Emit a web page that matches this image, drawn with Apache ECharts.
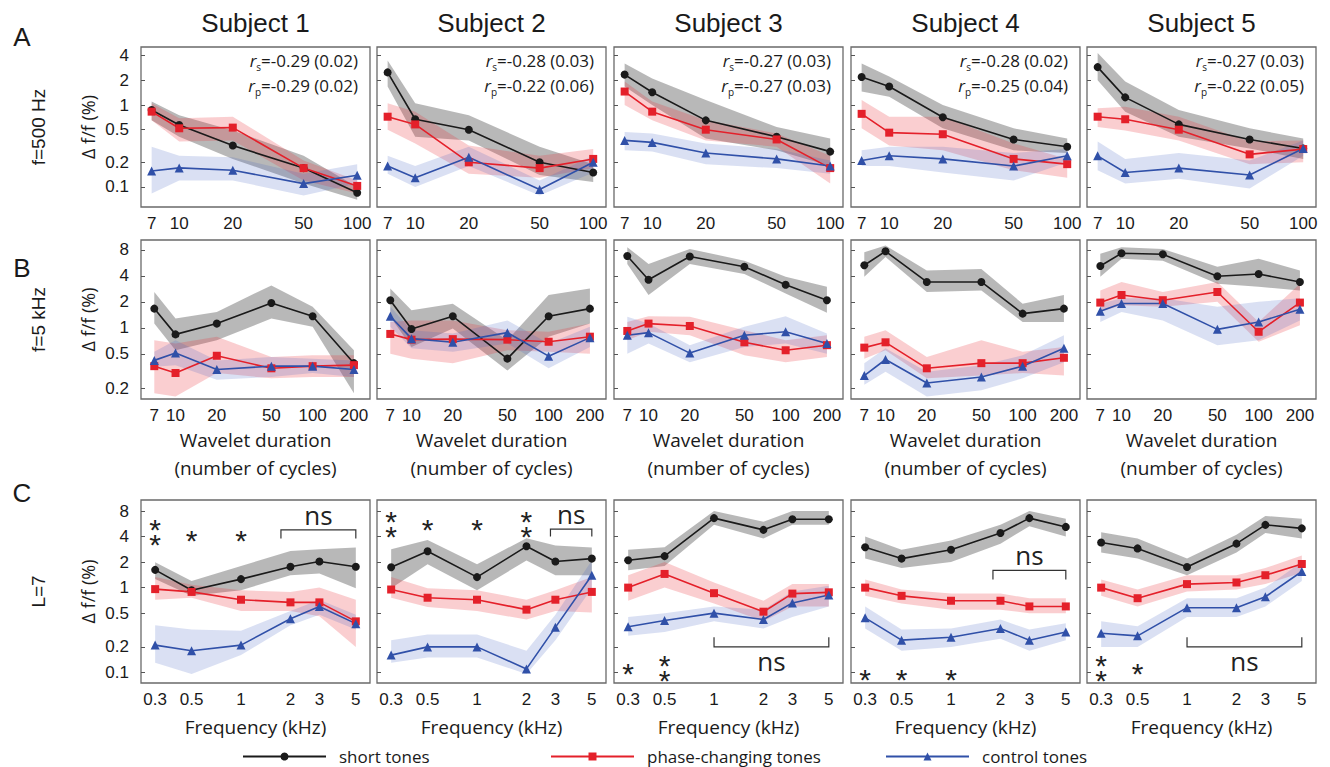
<!DOCTYPE html>
<html><head><meta charset="utf-8">
<script src="https://cdn.jsdelivr.net/npm/echarts@6/dist/echarts.min.js"></script>
<style>html,body{margin:0;padding:0;background:#fff;}#chart{width:1330px;height:767px;}</style>
</head><body><div id="chart"></div>
<script>
// ---------------- data ----------------
const SUBJECTS = ['Subject 1','Subject 2','Subject 3','Subject 4','Subject 5'];
const ROW_LABELS = ['f=500 Hz','f=5 kHz','L=7'];
const PANEL_LETTERS = ['A','B','C'];
const Y_TITLE = 'Δ f/f (%)';
const X_TITLE_B = ['Wavelet duration','(number of cycles)'];
const X_TITLE_C = 'Frequency (kHz)';
const SERIES_NAMES = ['short tones','phase-changing tones','control tones'];

const X_A = [7,10,20,50,100];
const X_B = [7,10,20,50,100,200];
const X_C = [0.3,0.5,1,2,3,5];
const YTICKS_A = [0.1,0.2,0.5,1,2,4];
const YTICKS_B = [0.2,0.5,1,2,4,8];
const YTICKS_C = [0.1,0.2,0.5,1,2,4,8];

const RS = ['-0.29 (0.02)','-0.28 (0.03)','-0.27 (0.03)','-0.28 (0.02)','-0.27 (0.03)'];
const RP = ['-0.29 (0.02)','-0.22 (0.06)','-0.27 (0.03)','-0.25 (0.04)','-0.22 (0.05)'];

// Row A (f = 500 Hz)
const A_SHORT    = [[0.87,0.57,0.32,0.17,0.085],[2.5,0.67,0.50,0.20,0.15],[2.35,1.43,0.65,0.41,0.27],[2.2,1.68,0.71,0.38,0.31],[2.9,1.24,0.58,0.38,0.295]];
const A_SHORT_LO = [[0.65,0.41,0.22,0.11,0.07],[1.68,0.41,0.37,0.14,0.115],[1.68,1.0,0.39,0.28,0.18],[1.46,1.26,0.52,0.28,0.26],[2.0,0.83,0.41,0.295,0.22]];
const A_SHORT_HI = [[1.1,0.75,0.49,0.24,0.1],[3.5,1.05,0.75,0.31,0.19],[3.2,2.1,1.15,0.54,0.39],[3.2,2.22,1.0,0.52,0.39],[4.3,1.93,0.87,0.52,0.39]];
const A_PHASE    = [[0.83,0.52,0.53,0.17,0.103],[0.72,0.58,0.20,0.17,0.22],[1.46,0.83,0.50,0.38,0.17],[0.78,0.46,0.44,0.22,0.19],[0.72,0.67,0.50,0.25,0.29]];
const A_PHASE_LO = [[0.65,0.36,0.37,0.12,0.083],[0.5,0.34,0.145,0.13,0.17],[1.0,0.65,0.37,0.31,0.11],[0.52,0.32,0.28,0.16,0.13],[0.54,0.49,0.37,0.19,0.2]];
const A_PHASE_HI = [[1.05,0.69,0.72,0.21,0.12],[1.05,0.83,0.32,0.24,0.29],[1.93,1.1,0.65,0.45,0.24],[1.15,0.72,0.72,0.34,0.22],[0.91,0.95,0.72,0.36,0.37]];
const A_CTRL     = [[0.157,0.171,0.16,0.11,0.139],[0.18,0.13,0.23,0.093,0.20],[0.37,0.35,0.26,0.22,0.18],[0.21,0.24,0.22,0.18,0.24],[0.24,0.15,0.17,0.14,0.295]];
const A_CTRL_LO  = [[0.083,0.12,0.12,0.079,0.11],[0.145,0.1,0.18,0.079,0.15],[0.28,0.27,0.19,0.17,0.145],[0.18,0.18,0.15,0.12,0.2],[0.16,0.11,0.126,0.096,0.24]];
const A_CTRL_HI  = [[0.31,0.24,0.23,0.145,0.19],[0.24,0.18,0.31,0.12,0.24],[0.47,0.45,0.34,0.29,0.21],[0.28,0.31,0.31,0.26,0.29],[0.36,0.22,0.26,0.21,0.37]];

// Row B (f = 5 kHz)
const B_SHORT    = [[1.67,0.84,1.12,1.94,1.36,0.39],[2.09,0.97,1.36,0.44,1.36,1.67],[6.8,3.6,6.7,5.1,3.16,2.09],[5.3,7.7,3.4,3.4,1.46,1.67],[5.2,7.3,7.1,3.95,4.2,3.4]];
const B_SHORT_LO = [[1.12,0.55,0.72,1.28,1.03,0.175],[1.34,0.6,0.98,0.32,0.79,1.12],[5.5,2.4,5.5,4.2,2.5,1.5],[3.9,6.6,2.6,2.7,1.17,1.17],[3.9,6.3,6.0,3.25,3.0,2.7]];
const B_SHORT_HI = [[2.6,1.28,1.53,3.1,1.75,0.55],[2.85,1.6,1.9,0.72,2.4,2.85],[8.6,5.5,8.2,6.0,3.9,3.0],[7.5,9.0,4.6,4.8,1.9,2.4],[7.2,8.6,8.2,5.1,6.3,4.6]];
const B_PHASE    = [[0.36,0.30,0.475,0.34,0.36,0.37],[0.85,0.73,0.74,0.73,0.69,0.79],[0.92,1.12,1.05,0.68,0.55,0.63],[0.59,0.68,0.34,0.39,0.39,0.45],[1.96,2.4,2.09,2.6,0.9,1.96]];
const B_PHASE_LO = [[0.175,0.16,0.3,0.26,0.27,0.27],[0.5,0.44,0.39,0.55,0.53,0.5],[0.72,0.9,0.82,0.48,0.4,0.46],[0.44,0.55,0.26,0.28,0.3,0.28],[1.53,1.83,1.75,2.0,0.69,1.07]];
const B_PHASE_HI = [[0.72,0.66,0.79,0.46,0.48,0.48],[1.17,1.22,1.22,0.94,0.9,1.12],[1.17,1.36,1.34,0.94,0.72,0.82],[0.79,0.94,0.46,0.72,0.53,0.6],[2.7,3.4,2.6,3.4,1.17,3.25]];
const B_CTRL     = [[0.42,0.51,0.33,0.36,0.36,0.33],[1.36,0.75,0.68,0.88,0.47,0.77],[0.82,0.88,0.51,0.82,0.9,0.66],[0.28,0.43,0.23,0.27,0.36,0.58],[1.56,1.91,1.91,0.96,1.17,1.64]];
const B_CTRL_LO  = [[0.355,0.37,0.25,0.27,0.3,0.27],[1.03,0.58,0.53,0.66,0.34,0.6],[0.5,0.66,0.4,0.6,0.66,0.5],[0.22,0.31,0.16,0.19,0.26,0.4],[1.17,1.53,1.22,0.63,0.72,1.22]];
const B_CTRL_HI  = [[0.53,0.72,0.42,0.46,0.44,0.42],[1.75,0.94,0.86,1.22,0.66,1.03],[1.34,1.12,0.63,1.03,1.36,0.86],[0.39,0.58,0.31,0.37,0.48,0.82],[1.9,2.2,2.2,1.75,2.0,2.2]];

// Row C (L = 7)
const C_SHORT    = [[1.62,0.93,1.26,1.76,2.03,1.76],[1.74,2.69,1.33,3.07,2.03,2.2],[2.1,2.35,6.6,4.8,6.4,6.4],[3.0,2.2,2.8,4.4,6.6,5.2],[3.4,2.9,1.75,3.3,5.5,5.0]];
const C_SHORT_LO = [[1.26,0.8,0.93,1.4,1.47,0.98],[0.98,1.89,0.93,2.09,1.4,1.4],[1.6,1.8,5.5,3.8,5.5,5.5],[2.2,1.7,2.0,3.3,5.3,4.0],[2.6,2.2,1.4,2.6,4.4,3.8]];
const C_SHORT_HI = [[1.99,1.2,1.8,2.7,2.83,2.97],[2.83,3.64,1.89,3.83,3.13,2.97],[2.8,3.0,8.0,6.0,8.0,8.0],[4.0,2.8,3.6,5.5,8.0,6.5],[4.5,3.8,2.2,4.2,7.0,6.5]];
const C_PHASE    = [[0.96,0.89,0.72,0.67,0.67,0.40],[0.95,0.76,0.72,0.55,0.72,0.89],[1.0,1.45,0.86,0.52,0.85,0.88],[1.0,0.8,0.7,0.7,0.6,0.6],[1.0,0.75,1.1,1.15,1.4,1.9]];
const C_PHASE_LO = [[0.72,0.76,0.53,0.53,0.46,0.2],[0.76,0.59,0.53,0.42,0.53,0.51],[0.7,1.0,0.65,0.4,0.6,0.6],[0.8,0.65,0.55,0.55,0.5,0.5],[0.8,0.6,0.9,0.95,1.1,1.5]];
const C_PHASE_HI = [[1.33,1.08,0.93,0.89,1.0,0.72],[1.33,0.98,0.93,0.72,0.93,1.33],[1.4,2.0,1.15,0.7,1.1,1.1],[1.25,0.95,0.85,0.85,0.75,0.75],[1.25,0.95,1.4,1.4,1.7,2.4]];
const C_CTRL     = [[0.21,0.18,0.21,0.43,0.60,0.376],[0.16,0.2,0.2,0.11,0.34,1.4],[0.345,0.41,0.5,0.42,0.66,0.82],[0.44,0.24,0.26,0.33,0.24,0.3],[0.29,0.27,0.58,0.58,0.78,1.55]];
const C_CTRL_LO  = [[0.13,0.096,0.16,0.36,0.48,0.32],[0.13,0.15,0.15,0.096,0.24,0.98],[0.27,0.3,0.4,0.33,0.45,0.6],[0.33,0.18,0.2,0.25,0.18,0.24],[0.2,0.2,0.45,0.45,0.6,1.2]];
const C_CTRL_HI  = [[0.36,0.32,0.31,0.53,0.72,0.48],[0.24,0.28,0.28,0.18,0.48,2.09],[0.45,0.5,0.6,0.55,0.9,1.05],[0.6,0.32,0.33,0.42,0.32,0.38],[0.4,0.35,0.75,0.75,1.0,2.0]];

// Row C significance annotations: [x, y, stars]
const C_STARS = [
  [[0.3,5.0,'**'],[0.5,4.6,'*'],[1,4.6,'*']],
  [[0.3,6.3,'**'],[0.5,6.2,'*'],[1,6.2,'*'],[2,6.3,'**']],
  [[0.3,0.125,'*'],[0.5,0.125,'**']],
  [[0.3,0.105,'*'],[0.5,0.105,'*'],[1,0.105,'*']],
  [[0.3,0.125,'**'],[0.5,0.125,'*']]
];
// "ns" brackets: [xStart, xEnd, yLine, yTickEnd]
const C_NS = [[1.75,5,4.8,3.8],[2.8,5,4.9,4.0],[1,5,0.2,0.26],[1.8,5,1.6,1.25],[1,5,0.2,0.26]];
const NS_TEXT = 'ns';

// ---------------- layout / style ----------------
const COL_LEFT = [141,377,614,851,1087];
const COL_W = 229;
const ROWS = [
  {x:X_A, yt:YTICKS_A, xr:[6.1,118], yr:[0.057,5.1], top:47, h:160,
   S:[A_SHORT,A_SHORT_LO,A_SHORT_HI], P:[A_PHASE,A_PHASE_LO,A_PHASE_HI], C:[A_CTRL,A_CTRL_LO,A_CTRL_HI]},
  {x:X_B, yt:YTICKS_B, xr:[5.6,262], yr:[0.15,10.4], top:240, h:159,
   S:[B_SHORT,B_SHORT_LO,B_SHORT_HI], P:[B_PHASE,B_PHASE_LO,B_PHASE_HI], C:[B_CTRL,B_CTRL_LO,B_CTRL_HI]},
  {x:X_C, yt:YTICKS_C, xr:[0.246,6.1], yr:[0.075,10.8], top:500, h:183,
   S:[C_SHORT,C_SHORT_LO,C_SHORT_HI], P:[C_PHASE,C_PHASE_LO,C_PHASE_HI], C:[C_CTRL,C_CTRL_LO,C_CTRL_HI]}
];
const STY = [
  {name:SERIES_NAMES[0], color:'#1a1a1a', band:'rgba(40,40,40,0.33)', symbol:'circle', size:8},
  {name:SERIES_NAMES[1], color:'#e4202a', band:'rgba(235,50,60,0.24)', symbol:'rect', size:8},
  {name:SERIES_NAMES[2], color:'#3050a8', band:'rgba(70,100,195,0.2)', symbol:'triangle', size:9}
];
const HELV = '"Liberation Sans", Arial, sans-serif';
const MYR = '"Open Sans", "Noto Sans", sans-serif';
const INK = '#1a1a1a';

const grids=[], xAxes=[], yAxes=[], series=[], graphics=[];
const fmt = v => String(+(+v).toPrecision(4));

function bandSeries(gi, xs, lo, hi, color){
  return {type:'custom', xAxisIndex:gi, yAxisIndex:gi, silent:true, z:1, animation:false,
    data: xs.map((x,i)=>[x, lo[i], hi[i]]), encode:{x:0, y:[1,2]},
    renderItem:(params, api)=>{
      if (params.dataIndex !== 0) return null;
      const pts=[];
      for (let i=0;i<xs.length;i++) pts.push(api.coord([xs[i], hi[i]]));
      for (let i=xs.length-1;i>=0;i--) pts.push(api.coord([xs[i], lo[i]]));
      return {type:'polygon', shape:{points:pts}, style:{fill:color, stroke:null}};
    }};
}

ROWS.forEach((R, r)=>{
  for (let c=0;c<5;c++){
    const gi = r*5+c;
    grids.push({left:COL_LEFT[c], top:R.top, width:COL_W, height:R.h, show:true,
      borderColor:'#6a6a6a', borderWidth:1.3, backgroundColor:'rgba(0,0,0,0)'});
    xAxes.push({type:'log', gridIndex:gi, min:R.xr[0], max:R.xr[1],
      axisLine:{show:false}, axisTick:{show:false}, splitLine:{show:false}, minorTick:{show:false},
      axisLabel:{customValues:R.x, formatter:fmt, fontSize:17, fontFamily:HELV, color:INK, margin:8}});
    yAxes.push({type:'log', gridIndex:gi, min:R.yr[0], max:R.yr[1],
      axisLine:{show:false}, splitLine:{show:false}, minorTick:{show:false},
      axisTick:{show:true, inside:true, length:4, customValues:R.yt, lineStyle:{color:'#555', width:1}},
      axisLabel:{show:c===0, customValues:R.yt, formatter:fmt, fontSize:17, fontFamily:HELV, color:INK, margin:12}});
    const groups=[R.S,R.P,R.C];
    groups.forEach((G,k)=> series.push(bandSeries(gi, R.x, G[1][c], G[2][c], STY[k].band)));
    groups.forEach((G,k)=> series.push({type:'line', name:STY[k].name, xAxisIndex:gi, yAxisIndex:gi, z:3,
      data:R.x.map((x,i)=>[x, G[0][c][i]]), symbol:STY[k].symbol, symbolSize:STY[k].size,
      lineStyle:{color:STY[k].color, width:1.6}, itemStyle:{color:STY[k].color}, animation:false, silent:true}));
    if (r===2){
      const stars = C_STARS[c];
      series.push({type:'custom', xAxisIndex:gi, yAxisIndex:gi, silent:true, z:5, animation:false, clip:false,
        data:stars.map(s=>[s[0],s[1]]), encode:{x:0,y:1},
        renderItem:(params, api)=>{
          const s = stars[params.dataIndex]; const p = api.coord([s[0], s[1]]);
          return {type:'text', x:p[0], y:p[1]+9, style:{text:s[2].split('').join('\n'), font:'30px '+HELV, fill:'#222',
            align:'center', verticalAlign:'middle', textAlign:'center', textVerticalAlign:'middle', lineHeight:15}};
        }});
      const b = C_NS[c];
      series.push({type:'custom', xAxisIndex:gi, yAxisIndex:gi, silent:true, z:5, animation:false, clip:false,
        data:[[b[0], b[2]]], encode:{x:0,y:1},
        renderItem:(params, api)=>{
          const p1=api.coord([b[0],b[3]]), p2=api.coord([b[0],b[2]]), p3=api.coord([b[1],b[2]]), p4=api.coord([b[1],b[3]]);
          const mid=api.coord([Math.sqrt(b[0]*b[1]), b[2]]);
          const above = b[3] < b[2];
          return {type:'group', children:[
            {type:'polyline', shape:{points:[p1,p2,p3,p4]}, style:{stroke:'#333', lineWidth:1.2, fill:null}},
            {type:'text', x:mid[0], y:mid[1]+(above?-15:14), style:{text:NS_TEXT, font:'26px '+MYR, fill:'#222',
              align:'center', verticalAlign:'middle', textAlign:'center', textVerticalAlign:'middle'}}
          ]};
        }});
    }
  }
});

function txt(x,y,text,font,extra){
  return Object.assign({type:'text', x:x, y:y, silent:true,
    style:{text:text, font:font, fill:INK, align:'center', verticalAlign:'middle', textAlign:'center', textVerticalAlign:'middle'}}, extra||{});
}
SUBJECTS.forEach((s,c)=> graphics.push(txt(COL_LEFT[c]+COL_W/2, 23, s, '26px '+HELV)));
const rowMid = ROWS.map(R=>R.top+R.h/2);
PANEL_LETTERS.forEach((l,r)=> graphics.push(txt(22, [37,268,493][r], l, '26px '+HELV)));
ROW_LABELS.forEach((l,r)=> graphics.push(txt(38, rowMid[r], l, '19px '+HELV, {rotation:Math.PI/2})));
ROWS.forEach((R,r)=> graphics.push(txt(88, rowMid[r], Y_TITLE, '18px '+MYR, {rotation:Math.PI/2})));
for (let c=0;c<5;c++){
  const cx = COL_LEFT[c]+COL_W/2;
  graphics.push(txt(cx, 440, X_TITLE_B[0], '19px '+MYR));
  graphics.push(txt(cx, 468, X_TITLE_B[1], '19px '+MYR));
  graphics.push(txt(cx, 727, X_TITLE_C, '19px '+MYR));
  const rx = COL_LEFT[c]+COL_W-12;
  [['s',RS[c],60],['p',RP[c],85]].forEach(([sub,val,y])=>{
    graphics.push({type:'text', x:rx, y:y, silent:true, style:{
      text:'{i|r}{s|'+sub+'}{t|='+val+'}', fill:INK, align:'right', verticalAlign:'middle', textAlign:'right', textVerticalAlign:'middle',
      font:'17px '+MYR,
      rich:{i:{fontStyle:'italic', fontSize:17, fontFamily:MYR, fill:INK, color:INK, lineHeight:24, verticalAlign:'middle'},
            s:{fontSize:10, fontFamily:MYR, fill:INK, color:INK, lineHeight:24, verticalAlign:'bottom'},
            t:{fontSize:17, fontFamily:MYR, fill:INK, color:INK, lineHeight:24, verticalAlign:'middle'}}}});
  });
}

const legendX = [237,545,880];
const legends = SERIES_NAMES.map((n,i)=>({data:[n], left:legendX[i], top:743, itemWidth:83, itemHeight:10,
  selectedMode:false, textStyle:{fontSize:17, fontFamily:MYR, color:INK, padding:[0,0,0,8]}}));

const chart = echarts.init(document.getElementById('chart'), null, {renderer:'svg', width:1330, height:767});
chart.setOption({backgroundColor:'#ffffff', animation:false, grid:grids, xAxis:xAxes, yAxis:yAxes,
  series:series, legend:legends, graphic:{elements:graphics}});
</script></body></html>
